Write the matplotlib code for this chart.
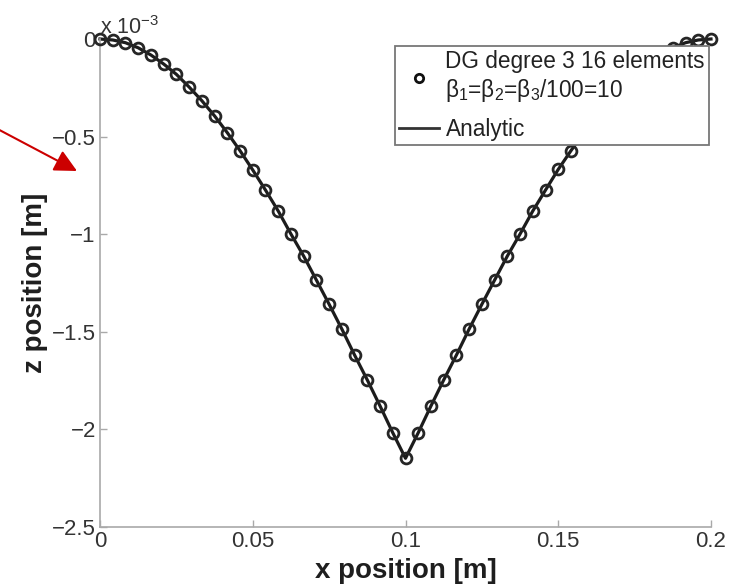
import matplotlib
matplotlib.use("Agg")
import matplotlib.pyplot as plt
from matplotlib.lines import Line2D

plt.rcParams.update({
    "font.family": ["Liberation Sans", "DejaVu Sans"],
    "mathtext.fontset": "custom",
    "mathtext.rm": "Liberation Sans",
    "mathtext.it": "Liberation Sans",
    "mathtext.bf": "Liberation Sans:bold",
})

# DG node positions along the beam [m]
x_nodes = [0.0, 0.00417, 0.00833, 0.0125, 0.01667, 0.02083, 0.025, 0.02917,
           0.03333, 0.0375, 0.04167, 0.04583, 0.05, 0.05417, 0.05833, 0.0625,
           0.06667, 0.07083, 0.075, 0.07917, 0.08333, 0.0875, 0.09167, 0.09583,
           0.1, 0.10417, 0.10833, 0.1125, 0.11667, 0.12083, 0.125, 0.12917,
           0.13333, 0.1375, 0.14167, 0.14583, 0.15, 0.15417, 0.15833, 0.1625,
           0.16667, 0.17083, 0.175, 0.17917, 0.18333, 0.1875, 0.19167, 0.19583,
           0.2]

# vertical displacement in units of 1e-3 m
z_dg = [0.0, -0.005, -0.019, -0.045, -0.082, -0.128, -0.181, -0.246,
        -0.316, -0.394, -0.480, -0.572, -0.671, -0.774, -0.881, -0.999,
        -1.112, -1.235, -1.359, -1.486, -1.619, -1.747, -1.880, -2.017,
        -2.148, -2.017, -1.880, -1.747, -1.619, -1.486, -1.359, -1.235,
        -1.112, -0.999, -0.881, -0.774, -0.668, -0.572, -0.480, -0.394,
        -0.316, -0.246, -0.181, -0.128, -0.082, -0.045, -0.019, -0.005,
        0.0]

x_ticks = [0, 0.05, 0.1, 0.15, 0.2]
x_tick_labels = ["0", "0.05", "0.1", "0.15", "0.2"]
y_ticks = [-2.5, -2, -1.5, -1, -0.5, 0]
y_tick_labels = ["\u22122.5", "\u22122", "\u22121.5", "\u22121", "\u22120.5", "0"]

dg_label = "DG degree 3 16 elements\n\u03b2$_1$=\u03b2$_2$=\u03b2$_3$/100=10"
analytic_label = "Analytic"

W, H = 748, 586
fig = plt.figure(figsize=(W / 100, H / 100), dpi=100)
fig.patch.set_facecolor("white")
ax = fig.add_axes([100 / W, 1 - 527 / H, 611 / W, 488 / H])

# analytic curve and DG nodal values
ax.plot(x_nodes, z_dg, color="#1c1c1c", lw=2.3, zorder=2, clip_on=False)
ax.plot(x_nodes, z_dg, ls="none", marker="o", ms=7.8, mfc="none",
        mec="#262626", mew=2.0, zorder=3, clip_on=False)

ax.set_xlim(0, 0.2)
ax.set_ylim(-2.5, 0)
for s in ["top", "right"]:
    ax.spines[s].set_visible(False)
for s in ["left", "bottom"]:
    ax.spines[s].set_color("#a9a9a9")
    ax.spines[s].set_linewidth(1.2)

ax.set_xticks(x_ticks)
ax.set_xticklabels(x_tick_labels)
ax.set_yticks(y_ticks)
ax.set_yticklabels(y_tick_labels)
ax.tick_params(direction="in", length=5, width=1, color="#a9a9a9",
               labelsize=16, labelcolor="#333333", pad=3)

ax.set_xlabel("x position [m]", fontsize=20, fontweight="bold", color="#1e1e1e")
ax.set_ylabel("z position [m]", fontsize=20, fontweight="bold", color="#1e1e1e")
ax.xaxis.set_label_coords(0.5, -0.09)
ax.yaxis.set_label_coords(-0.106, 0.5)
ax.xaxis.label.set_va("center")
ax.yaxis.label.set_va("center")

# exponent label of the z axis
fig.text(100 / W, 1 - 34 / H, "x 10$^{\u22123}$", fontsize=15.5, color="#333333",
         ha="left", va="baseline")

# legend
h_dg = Line2D([], [], ls="none", marker="o", ms=6, mfc="none", mec="#111111", mew=2)
h_an = Line2D([], [], color="#333333", lw=2)
leg = fig.legend([h_dg, h_an], [dg_label, analytic_label], loc="upper left",
                 bbox_to_anchor=(395 / W, 1 - 46 / H), bbox_transform=fig.transFigure,
                 frameon=True, fancybox=False, edgecolor="#777777", facecolor="white",
                 framealpha=1, fontsize=16.3, handlelength=1.75, handletextpad=0.3,
                 borderpad=0.18, labelspacing=0.6, borderaxespad=0)
leg.get_frame().set_linewidth(1.3)
for t in leg.get_texts():
    t.set_color("#222222")

# red pointer arrow on the left
ax.annotate("", xy=(77, H - 171), xytext=(-10, H - 125),
            xycoords="figure pixels", textcoords="figure pixels",
            arrowprops=dict(arrowstyle="-|>", color="#cc0000", lw=1.5,
                            mutation_scale=34, shrinkA=0, shrinkB=0),
            annotation_clip=False)

fig.savefig("out.png", dpi=100, facecolor="white")
